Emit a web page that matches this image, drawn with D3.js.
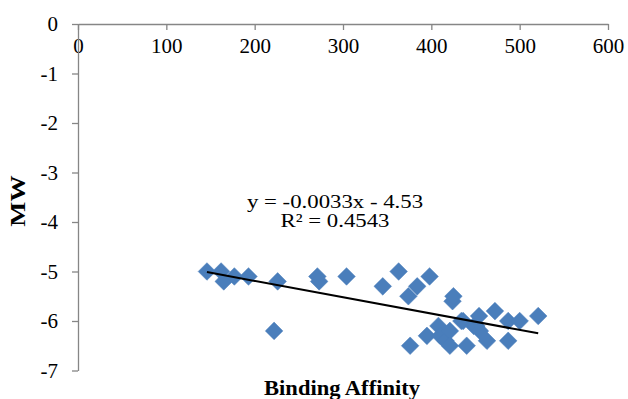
<!DOCTYPE html>
<html>
<head>
<meta charset="utf-8">
<script src="https://cdn.jsdelivr.net/npm/d3@7"></script>
<style>
  body { margin: 0; background: #fff; }
</style>
</head>
<body>
<svg id="chart"></svg>
<script>
// Binding affinity (x) vs MW (y)
var affinity = [146, 162, 165, 177, 193, 222, 226, 271, 273, 304, 345, 363, 374, 376, 384, 395, 398, 408, 410, 416, 421, 421, 424, 425, 434, 436, 440, 448, 451, 454, 455, 463, 472, 487, 487, 500, 521];
var mw = [-5.0, -5.0, -5.2, -5.1, -5.1, -6.2, -5.2, -5.1, -5.2, -5.1, -5.3, -5.0, -5.5, -6.5, -5.3, -6.3, -5.1, -6.1, -6.3, -6.4, -6.2, -6.5, -5.6, -5.5, -6.0, -6.0, -6.5, -6.1, -6.1, -5.9, -6.2, -6.4, -5.8, -6.0, -6.4, -6.0, -5.9];

// Tick values
var xTicks = [0, 100, 200, 300, 400, 500, 600];
var yTicks = [0, -1, -2, -3, -4, -5, -6, -7];

// Linear trendline as shown on the chart
var slope = -0.0033, intercept = -4.53, rSquared = 0.4543;

var width = 628, height = 399,
    font = 'Liberation Serif';

var svg = d3.select('#chart')
  .attr('width', width)
  .attr('height', height)
  .attr('font-family', font);

var x = d3.scaleLinear().domain([0, 600]).range([78, 608]);
var y = d3.scaleLinear().domain([0, -7]).range([24, 370.5]);

// plain hyphen minus like the original
var fmt = function(d){ return String(d); };

// X axis sits on top (y = 0), labels hang below the line
svg.append('g')
  .attr('transform', 'translate(0,' + y(0) + ')')
  .call(d3.axisBottom(x).tickValues(xTicks).tickFormat(fmt).tickSize(6).tickPadding(8).tickSizeOuter(0));

// Y axis
svg.append('g')
  .attr('transform', 'translate(' + x(0) + ',0)')
  .call(d3.axisLeft(y).tickValues(yTicks).tickFormat(fmt).tickSize(6).tickPadding(14).tickSizeOuter(0));

svg.selectAll('g').attr('font-family', font).attr('font-size', 21);

svg.selectAll('.domain, .tick line')
  .attr('stroke', '#868686')
  .attr('stroke-width', 1.3);

svg.selectAll('.tick text')
  .attr('fill', '#000');

// Points as diamonds
svg.append('g')
  .selectAll('path')
  .data(affinity)
  .enter().append('path')
    .attr('d', d3.symbol().type(d3.symbolSquare).size(155))
    .attr('transform', function(d, i){
      return 'translate(' + x(d) + ',' + y(mw[i]) + ') rotate(45)';
    })
    .attr('fill', '#4a7ebb')
    .attr('stroke', '#4a7ebb')
    .attr('stroke-width', 0.5);

// Trendline across the data range
var xMin = d3.min(affinity), xMax = d3.max(affinity);
svg.append('line')
  .attr('x1', x(xMin)).attr('y1', y(slope * xMin + intercept))
  .attr('x2', x(xMax)).attr('y2', y(slope * xMax + intercept))
  .attr('stroke', '#000')
  .attr('stroke-width', 2);

// text drawn a bit wider than tall, as in the original picture
function label(cx, cy, txt, size, sx, rot, bold){
  return svg.append('text')
    .attr('transform', 'translate(' + cx + ',' + cy + ')' + (rot ? ' rotate(' + rot + ')' : '') + ' scale(' + sx + ',1)')
    .attr('text-anchor', 'middle')
    .attr('font-family', font)
    .attr('font-size', size)
    .attr('font-weight', bold ? 'bold' : 'normal')
    .text(txt);
}

// Equation label, two lines
label(335, 208, 'y = ' + slope.toFixed(4) + 'x - ' + Math.abs(intercept).toFixed(2), 19, 1.2);
label(335, 227, 'R² = ' + rSquared.toFixed(4), 19, 1.2);

// Axis titles
label(25, 201, 'MW', 22, 1.2, -90, true);
label(342, 395, 'Binding Affinity', 20.5, 1.1, 0, true);
</script>
</body>
</html>
